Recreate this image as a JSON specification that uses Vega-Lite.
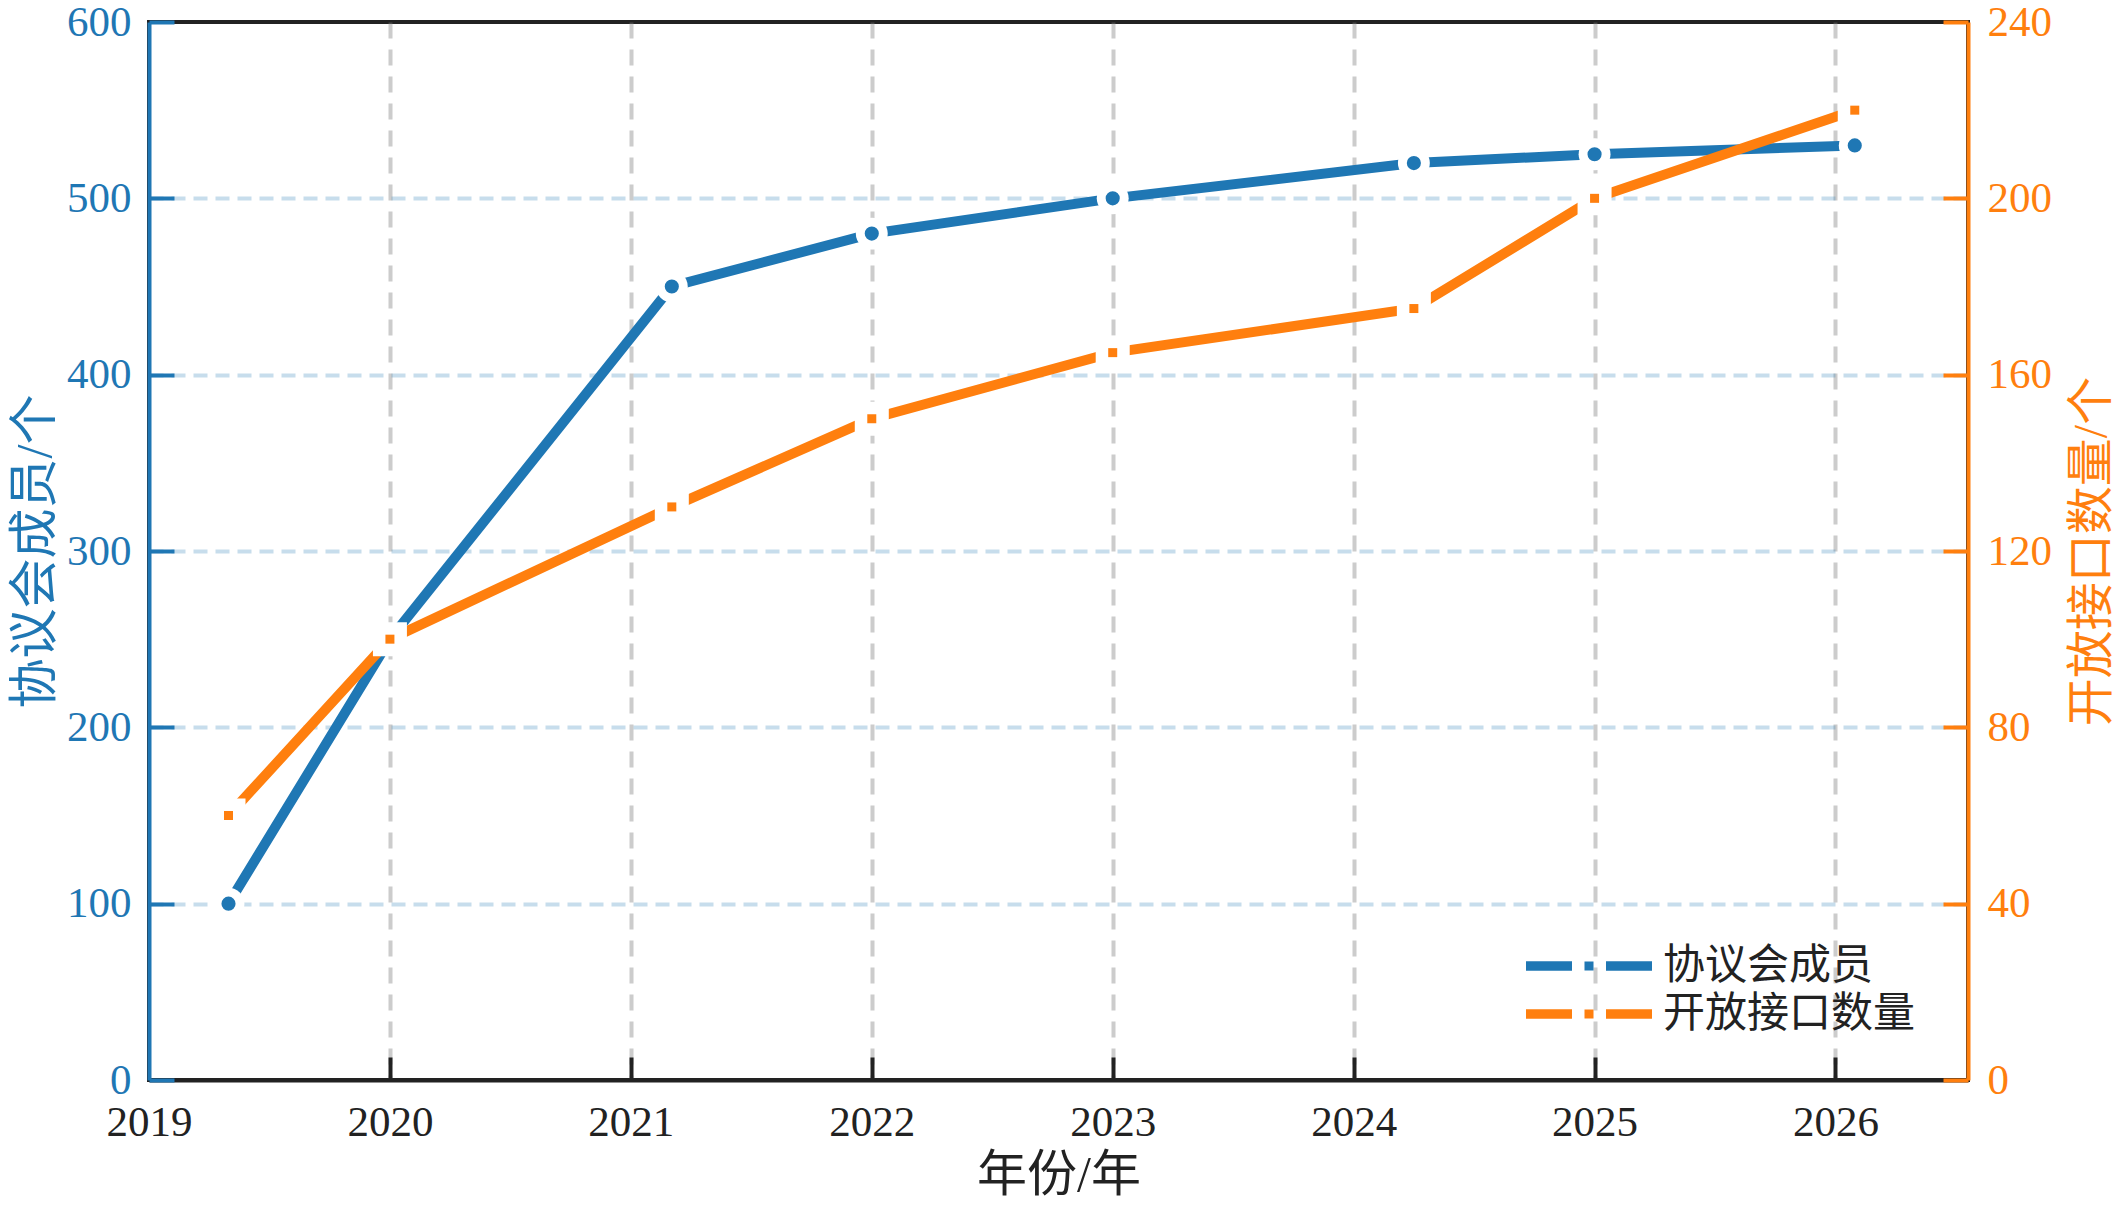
{
  "$schema": "https://vega.github.io/schema/vega-lite/v6.json",
  "width": 1819,
  "height": 1058,
  "autosize": {"type": "none"},
  "padding": {"left": 149, "top": 22, "right": 153, "bottom": 125},
  "background": "white",
  "config": {
    "font": "Liberation Serif, Noto Sans CJK SC",
    "view": {"stroke": "#222222", "strokeWidth": 4},
    "axis": {"titleFontWeight": "normal", "labelFlush": false, "labelOverlap": false, "zindex": 1}
  },
  "data": {
    "values": [
      {"year": 2019.33, "series": "协议会成员", "value": 100},
      {"year": 2020, "series": "协议会成员", "value": 250},
      {"year": 2021.17, "series": "协议会成员", "value": 450},
      {"year": 2022, "series": "协议会成员", "value": 480},
      {"year": 2023, "series": "协议会成员", "value": 500},
      {"year": 2024.25, "series": "协议会成员", "value": 520},
      {"year": 2025, "series": "协议会成员", "value": 525},
      {"year": 2026.08, "series": "协议会成员", "value": 530},
      {"year": 2019.33, "series": "开放接口数量", "value": 60},
      {"year": 2020, "series": "开放接口数量", "value": 100},
      {"year": 2021.17, "series": "开放接口数量", "value": 130},
      {"year": 2022, "series": "开放接口数量", "value": 150},
      {"year": 2023, "series": "开放接口数量", "value": 165},
      {"year": 2024.25, "series": "开放接口数量", "value": 175},
      {"year": 2025, "series": "开放接口数量", "value": 200},
      {"year": 2026.08, "series": "开放接口数量", "value": 220}
    ]
  },
  "encoding": {
    "x": {
      "field": "year",
      "type": "quantitative",
      "scale": {"domain": [2019, 2026.55], "nice": false, "zero": false},
      "axis": {
        "values": [2019, 2020, 2021, 2022, 2023, 2024, 2025, 2026],
        "format": "d",
        "title": "年份/年",
        "titleFontSize": 50,
        "titleColor": "#222222",
        "titlePadding": 6,
        "labelFontSize": 43,
        "labelColor": "#222222",
        "labelPadding": 44,
        "domainColor": "#222222",
        "domainWidth": 4,
        "tickColor": "#222222",
        "tickWidth": 4,
        "tickSize": -23,
        "tickOpacity": {"condition": {"test": "datum.value === 2019", "value": 0}, "value": 1},
        "grid": true,
        "gridColor": "#808080",
        "gridOpacity": {"condition": {"test": "datum.value === 2019", "value": 0}, "value": 0.4},
        "gridDash": [16, 11],
        "gridWidth": 4
      }
    }
  },
  "layer": [
    {
      "transform": [{"filter": "datum.series === '协议会成员'"}],
      "encoding": {
        "y": {
          "field": "value",
          "type": "quantitative",
          "scale": {"domain": [0, 600], "nice": false},
          "axis": {
            "orient": "left",
            "values": [0, 100, 200, 300, 400, 500, 600],
            "title": "协议会成员/个",
            "titleColor": "#1f77b4",
            "titleFontSize": 50,
            "titlePadding": 6,
            "labelColor": "#1f77b4",
            "labelFontSize": 43,
            "labelPadding": 43,
            "tickSize": -25,
            "tickColor": "#1f77b4",
            "tickWidth": 4,
            "domainColor": "#1f77b4",
            "domainWidth": 4,
            "grid": true,
            "gridColor": "#1f77b4",
            "gridOpacity": {"condition": {"test": "datum.value === 0 || datum.value === 600", "value": 0}, "value": 0.25},
            "gridDash": [14, 8],
            "gridWidth": 4
          }
        }
      },
      "layer": [
        {
          "mark": {"type": "line", "strokeWidth": 10},
          "encoding": {
            "color": {
              "field": "series",
              "type": "nominal",
              "scale": {"domain": ["协议会成员", "开放接口数量"], "range": ["#1f77b4", "#ff7f0e"]},
              "legend": {
                "title": null,
                "orient": "none",
                "legendX": 1377,
                "legendY": 919,
                "padding": 0,
                "rowPadding": 2,
                "symbolSize": 2500,
                "symbolStrokeWidth": 0,
                "symbolOffset": 38,
                "labelOffset": 49,
                "labelLimit": 0,
                "labelFontSize": 42,
                "labelColor": "#222222",
                "encode": {
                  "symbols": {
                    "update": {
                      "shape": {
                        "condition": {"test": "datum.value === '协议会成员'", "value": "M-2.52,-0.19H-0.76V0.19H-2.52Z M0.76,-0.19H2.52V0.19H0.76Z M-0.3,0A0.3,0.3 0 1,0 0.3,0A0.3,0.3 0 1,0 -0.3,0Z"},
                        "value": "M-2.52,-0.19H-0.68V0.19H-2.52Z M0.68,-0.19H2.52V0.19H0.68Z M-0.18,-0.18H0.18V0.18H-0.18Z"
                      },
                      "fill": {"condition": {"test": "datum.value === '协议会成员'", "value": "#1f77b4"}, "value": "#ff7f0e"},
                      "stroke": {"value": "transparent"},
                      "strokeWidth": {"value": 0},
                      "size": {"value": 2500},
                      "opacity": {"value": 1}
                    }
                  }
                }
              }
            }
          }
        },
        {
          "mark": {"type": "point", "shape": "circle", "filled": true, "color": "white", "size": 1018, "opacity": 1, "strokeWidth": 0}
        },
        {
          "mark": {"type": "point", "shape": "circle", "filled": true, "size": 200, "opacity": 1, "strokeWidth": 0},
          "encoding": {"color": {"field": "series", "type": "nominal"}}
        }
      ]
    },
    {
      "transform": [{"filter": "datum.series === '开放接口数量'"}],
      "encoding": {
        "y": {
          "field": "value",
          "type": "quantitative",
          "scale": {"domain": [0, 240], "nice": false},
          "axis": {
            "orient": "right",
            "values": [0, 40, 80, 120, 160, 200, 240],
            "title": "开放接口数量/个",
            "titleAngle": 270,
            "titleBaseline": "top",
            "titleColor": "#ff7f0e",
            "titleFontSize": 48,
            "titlePadding": 17,
            "labelColor": "#ff7f0e",
            "labelFontSize": 43,
            "labelPadding": 44,
            "tickSize": -25,
            "tickColor": "#ff7f0e",
            "tickWidth": 4,
            "domainColor": "#ff7f0e",
            "domainWidth": 4,
            "grid": false
          }
        }
      },
      "layer": [
        {
          "mark": {"type": "line", "strokeWidth": 10},
          "encoding": {"color": {"field": "series", "type": "nominal"}}
        },
        {
          "mark": {"type": "point", "shape": "square", "filled": true, "color": "white", "size": 1156, "opacity": 1, "strokeWidth": 0}
        },
        {
          "mark": {"type": "point", "shape": "square", "filled": true, "size": 81, "opacity": 1, "strokeWidth": 0},
          "encoding": {"color": {"field": "series", "type": "nominal"}}
        }
      ]
    }
  ],
  "resolve": {"scale": {"y": "independent"}}
}
